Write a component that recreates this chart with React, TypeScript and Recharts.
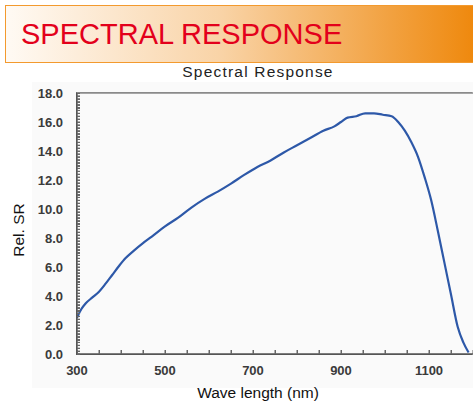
import { LineChart, Line, XAxis, YAxis, ReferenceLine } from "recharts";

// wavelength (nm) and relative spectral response
const wavelengths = [
  300, 310, 320, 335, 350, 365, 380, 395, 410, 430, 450, 470, 500, 530, 560,
  590, 620, 650, 680, 710, 740, 770, 800, 830, 860, 885, 900, 915, 935, 955,
  975, 995, 1015, 1030, 1045, 1060, 1075, 1090, 1105, 1120, 1135, 1150, 1165,
  1178, 1190,
];
const relSR = [
  2.5, 3.1, 3.5, 3.9, 4.3, 4.85, 5.45, 6.05, 6.6, 7.15, 7.65, 8.1, 8.8, 9.4, 10.1,
  10.7, 11.2, 11.75, 12.35, 12.9, 13.35, 13.9, 14.4, 14.9, 15.4, 15.7, 16.0, 16.3,
  16.4, 16.6, 16.6, 16.5, 16.4, 16.0, 15.4, 14.6, 13.6, 12.2, 10.6, 8.5, 6.3,
  4.1, 1.9, 0.8, 0.1,
];

// tick marks every 50 nm, labels every 200 nm
const xTicks = [
  300, 350, 400, 450, 500, 550, 600, 650, 700, 750, 800, 850, 900, 950, 1000,
  1050, 1100, 1150, 1200,
];
const xLabels = [300, 500, 700, 900, 1100];
// tick marks every 0.2, labels every 2.0
const yTicks = Array.from({ length: 91 }, (_, i) => Math.round(i * 2) / 10);
const yLabels = [0, 2, 4, 6, 8, 10, 12, 14, 16, 18];

const data = wavelengths.map((nm, i) => ({ nm, sr: relSR[i] }));

const FONT = "'Liberation Sans', Arial, sans-serif";
const tickText = { fill: "#3a3a3a", fontSize: 13, fontWeight: 600, fontFamily: FONT };
const axisLine = { stroke: "#555", strokeWidth: 1.4 };
const tickLine = { stroke: "#666", strokeWidth: 1 };

// plot box (same as the chart margins below)
const PLOT = { left: 77, top: 93, width: 396, height: 261 };

export default function App() {
  return (
    <div
      style={{
        position: "fixed",
        left: 0,
        top: 0,
        width: 473,
        height: 403,
        overflow: "hidden",
        background: "#fff",
        fontFamily: FONT,
      }}
    >
      {/* faint scan background behind the chart */}
      <div
        style={{
          position: "absolute",
          left: 32,
          top: 82,
          width: 441,
          height: 306,
          background: "#fafafa",
        }}
      />
      <div
        style={{
          position: "absolute",
          left: 5,
          top: 5,
          width: 480,
          height: 56,
          border: "1.5px solid #f39a2e",
          background: "linear-gradient(90deg, #fffaf4 0%, #f9d3a6 45%, #ee8506 100%)",
        }}
      >
        <div
          style={{
            position: "absolute",
            left: 15,
            top: 10,
            fontSize: 29,
            color: "#e3001b",
            lineHeight: "36px",
            whiteSpace: "nowrap",
          }}
        >
          SPECTRAL RESPONSE
        </div>
      </div>
      <div
        style={{
          position: "absolute",
          left: 0,
          width: 516,
          top: 63,
          textAlign: "center",
          fontSize: 15.5,
          letterSpacing: 1.2,
          color: "#222",
          whiteSpace: "nowrap",
        }}
      >
        Spectral Response
      </div>
      <div style={{ position: "absolute", left: 0, top: 0 }}>
        <LineChart
          width={473}
          height={403}
          data={data}
          margin={{ top: PLOT.top, right: 0, bottom: 19, left: 0 }}
        >
          <XAxis
            dataKey="nm"
            type="number"
            domain={[300, 1200]}
            ticks={xTicks}
            interval={0}
            height={30}
            axisLine={axisLine}
            tickLine={tickLine}
            tickSize={-4}
            tickMargin={16}
            tick={tickText}
            tickFormatter={(v: number) => (xLabels.includes(v) ? String(v) : "")}
            label={{
              content: () => (
                <text x={258} y={398} textAnchor="middle" fontSize={15.5} fill="#111" fontFamily={FONT}>
                  Wave length (nm)
                </text>
              ),
            }}
          />
          <YAxis
            type="number"
            domain={[0, 18]}
            ticks={yTicks}
            interval={0}
            width={PLOT.left}
            axisLine={axisLine}
            tickLine={tickLine}
            tickSize={-3}
            tickMargin={17}
            tick={tickText}
            tickFormatter={(v: number) => {
              const r = Math.round(v);
              return Math.abs(v - r) < 1e-6 && yLabels.includes(r) ? r.toFixed(1) : "";
            }}
            label={{
              content: () => (
                <text
                  x={24}
                  y={230}
                  transform="rotate(-90 24 230)"
                  textAnchor="middle"
                  fontSize={15.5}
                  fill="#111"
                  fontFamily={FONT}
                >
                  Rel. SR
                </text>
              ),
            }}
          />
          <ReferenceLine y={18} stroke="#8a8a8a" strokeWidth={1.5} />
          <Line
            dataKey="sr"
            type="monotone"
            stroke="#2d58a8"
            strokeWidth={2.2}
            dot={false}
            isAnimationActive={false}
          />
        </LineChart>
      </div>
      {/* plot frame and inward tick combs, drawn on the same plot box */}
      <div
        style={{
          position: "absolute",
          left: PLOT.left - 0.7,
          top: PLOT.top - 0.7,
          width: PLOT.width,
          height: PLOT.height + 1.4,
          boxSizing: "border-box",
          borderLeft: "1.4px solid #555",
          borderBottom: "1.4px solid #555",
          borderTop: "1.4px solid #8a8a8a",
          pointerEvents: "none",
        }}
      />
      <div
        style={{
          position: "absolute",
          left: PLOT.left,
          top: PLOT.top,
          width: 3,
          height: PLOT.height + 0.5,
          background: `repeating-linear-gradient(to top, #666 0px, #666 1px, transparent 1px, transparent ${PLOT.height / 90}px)`,
          pointerEvents: "none",
        }}
      />
      <div
        style={{
          position: "absolute",
          left: PLOT.left - 0.5,
          top: PLOT.top + PLOT.height - 4,
          width: PLOT.width,
          height: 4,
          background: `repeating-linear-gradient(to right, #666 0px, #666 1px, transparent 1px, transparent ${PLOT.width / 18}px)`,
          pointerEvents: "none",
        }}
      />
    </div>
  );
}
